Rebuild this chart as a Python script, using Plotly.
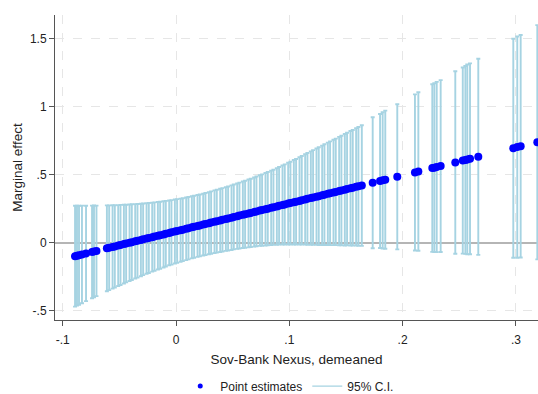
import plotly.graph_objects as go

# Sov-Bank Nexus (demeaned) values at which the marginal effect is evaluated
sov_bank_nexus = [
    -0.0891, -0.0874, -0.0856, -0.0830, -0.0794, -0.0741, -0.0724, -0.0702,
    -0.061, -0.059, -0.056, -0.054, -0.051, -0.049, -0.046, -0.044, -0.041, -0.039,
    -0.036, -0.034, -0.031, -0.029, -0.026, -0.024, -0.021, -0.019, -0.016, -0.014,
    -0.011, -0.009, -0.006, -0.004, -0.001, 0.001, 0.004, 0.006, 0.009, 0.011,
    0.014, 0.016, 0.019, 0.021, 0.024, 0.026, 0.029, 0.031, 0.034, 0.036,
    0.039, 0.041, 0.044, 0.046, 0.049, 0.051, 0.054, 0.056, 0.059, 0.061,
    0.064, 0.066, 0.069, 0.071, 0.074, 0.076, 0.079, 0.081, 0.084, 0.086,
    0.089, 0.091, 0.094, 0.096, 0.099, 0.101, 0.104, 0.106, 0.109, 0.111,
    0.114, 0.116, 0.119, 0.121, 0.124, 0.126, 0.129, 0.131, 0.134, 0.136,
    0.139, 0.141, 0.144, 0.146, 0.149, 0.151, 0.154, 0.156, 0.159, 0.161,
    0.164,
    0.1736, 0.1801, 0.1824, 0.1847, 0.1953, 0.2109, 0.2139, 0.2262, 0.2280, 0.2301,
    0.2336, 0.2465, 0.2531, 0.2554, 0.2571, 0.2595, 0.2668, 0.2977, 0.3012, 0.3042,
    0.3189,
]

# Point estimates of the marginal effect
point_estimate = [
    -0.099, -0.095, -0.092, -0.086, -0.079, -0.068, -0.064, -0.060,
    -0.041, -0.037, -0.031, -0.027, -0.021, -0.016, -0.010, -0.006, 0.000, 0.004,
    0.010, 0.014, 0.020, 0.025, 0.031, 0.035, 0.041, 0.045, 0.051, 0.055,
    0.061, 0.066, 0.072, 0.076, 0.082, 0.086, 0.092, 0.096, 0.102, 0.107,
    0.113, 0.117, 0.123, 0.127, 0.133, 0.137, 0.143, 0.148, 0.154, 0.158,
    0.164, 0.168, 0.174, 0.178, 0.184, 0.189, 0.195, 0.199, 0.205, 0.209,
    0.215, 0.219, 0.225, 0.230, 0.236, 0.240, 0.246, 0.250, 0.256, 0.260,
    0.266, 0.271, 0.277, 0.281, 0.287, 0.291, 0.297, 0.301, 0.307, 0.312,
    0.318, 0.322, 0.328, 0.332, 0.338, 0.342, 0.348, 0.353, 0.359, 0.363,
    0.369, 0.373, 0.379, 0.383, 0.389, 0.394, 0.400, 0.404, 0.410, 0.414,
    0.420,
    0.440, 0.453, 0.458, 0.463, 0.484, 0.516, 0.523, 0.548, 0.551, 0.556,
    0.563, 0.589, 0.603, 0.608, 0.611, 0.616, 0.631, 0.694, 0.702, 0.708,
    0.738,
]

# Half-width of the 95% confidence interval
ci_halfwidth = [
    0.370, 0.367, 0.363, 0.358, 0.350, 0.340, 0.337, 0.332,
    0.315, 0.311, 0.306, 0.302, 0.297, 0.294, 0.289, 0.285, 0.281, 0.278,
    0.273, 0.270, 0.266, 0.263, 0.259, 0.257, 0.253, 0.251, 0.248, 0.246,
    0.243, 0.241, 0.238, 0.237, 0.235, 0.234, 0.232, 0.231, 0.230, 0.229,
    0.228, 0.228, 0.227, 0.227, 0.227, 0.228, 0.228, 0.229, 0.230, 0.231,
    0.232, 0.233, 0.234, 0.235, 0.237, 0.238, 0.240, 0.242, 0.244, 0.246,
    0.249, 0.251, 0.254, 0.256, 0.259, 0.262, 0.266, 0.269, 0.273, 0.276,
    0.281, 0.285, 0.290, 0.294, 0.300, 0.304, 0.310, 0.314, 0.321, 0.325,
    0.332, 0.337, 0.343, 0.348, 0.354, 0.359, 0.365, 0.370, 0.376, 0.381,
    0.387, 0.391, 0.398, 0.402, 0.409, 0.413, 0.420, 0.424, 0.431, 0.436,
    0.443,
    0.481, 0.492, 0.500, 0.507, 0.533, 0.573, 0.582, 0.615, 0.620, 0.625,
    0.631, 0.670, 0.683, 0.690, 0.697, 0.701, 0.720, 0.804, 0.812, 0.817,
    0.860,
]

x_ticks = [-0.1, 0, 0.1, 0.2, 0.3]
x_ticklabels = ["-.1", "0", ".1", ".2", ".3"]
y_ticks = [-0.5, 0, 0.5, 1, 1.5]
y_ticklabels = ["-.5", "0", ".5", "1", "1.5"]

CI_COLOR = "#a6d3e2"
PT_COLOR = "#0000ff"
FONT = "Liberation Sans, Arial, sans-serif"

fig = go.Figure()

# 95% CI caps (error bars on invisible markers)
fig.add_trace(go.Scatter(
    x=sov_bank_nexus, y=point_estimate, mode="markers",
    marker=dict(size=1, opacity=0),
    error_y=dict(type="data", symmetric=True, array=ci_halfwidth,
                 color=CI_COLOR, thickness=1.9, width=2),
    showlegend=False, hoverinfo="skip",
))

fig.add_trace(go.Scatter(
    x=sov_bank_nexus, y=point_estimate, mode="markers",
    marker=dict(size=8, color=PT_COLOR, line=dict(width=0)),
    name="Point estimates", showlegend=False,
))

# legend entries
fig.add_trace(go.Scatter(
    x=[None], y=[None], mode="markers",
    marker=dict(size=5, color=PT_COLOR),
    name="Point estimates",
))
fig.add_trace(go.Scatter(
    x=[None], y=[None], mode="lines",
    line=dict(color=CI_COLOR, width=1.3),
    name="95% C.I.",
))

axis_common = dict(
    showline=True, linecolor="#555555", linewidth=1,
    ticks="outside", ticklen=5, tickcolor="#555555", tickwidth=1,
    showgrid=True, gridcolor="#e6e6e6", griddash="dash", gridwidth=1,
    tickfont=dict(family=FONT, size=12, color="#222222"),
    mirror=False, automargin=False,
)

fig.update_layout(
    width=538, height=394,
    margin=dict(l=55, r=0, t=15, b=74, autoexpand=False),
    paper_bgcolor="white", plot_bgcolor="white",
    font=dict(family=FONT, size=12, color="#222222"),
    xaxis=dict(
        range=[-0.1068, 0.3195],
        tickvals=x_ticks, ticktext=x_ticklabels,
        zeroline=False, ticklabelstandoff=4,
        title=dict(text="Sov-Bank Nexus, demeaned",
                   font=dict(family=FONT, size=13.5, color="#222222"),
                   standoff=8),
        **axis_common,
    ),
    yaxis=dict(
        range=[-0.5675, 1.672],
        tickvals=y_ticks, ticktext=y_ticklabels,
        zeroline=True, zerolinecolor="#b5b5b5", zerolinewidth=1.5,
        title=dict(text="Marginal effect",
                   font=dict(family=FONT, size=13.5, color="#222222"),
                   standoff=4),
        **axis_common,
    ),
    legend=dict(
        orientation="h", x=0.486, xanchor="center",
        yref="container", y=0.02, yanchor="middle",
        font=dict(family=FONT, size=12, color="#222222"),
        bgcolor="rgba(0,0,0,0)",
    ),
    showlegend=True,
)

fig.write_html(
    "out.html",
    config={"displayModeBar": False},
    post_script="document.body.style.margin='0px';document.body.style.padding='0px';",
)
